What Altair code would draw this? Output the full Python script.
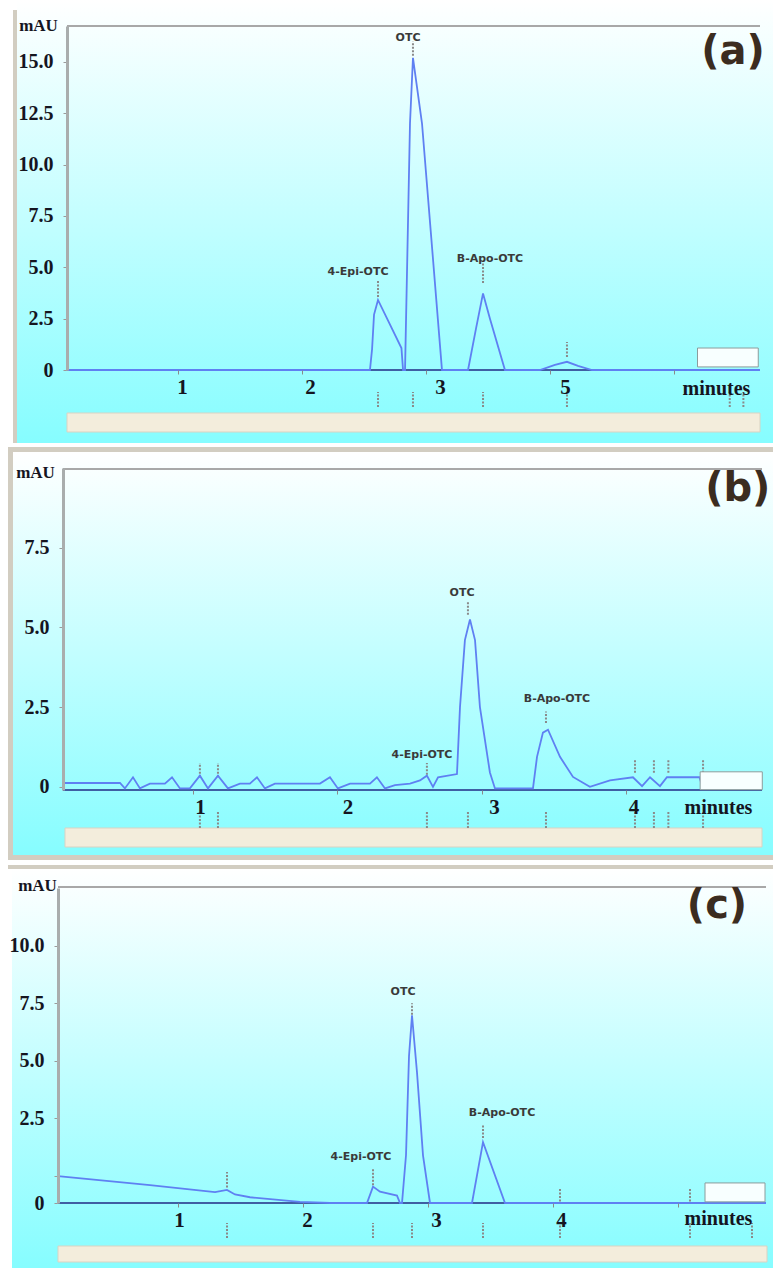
import altair as alt
import pandas as pd

SERIF = "Liberation Serif"
SANS = "DejaVu Sans"
TRACE = "#5f80f2"

# ---------------- Panel (a) data ----------------
a_time = [0.105, 2.548, 2.565, 2.581, 2.613, 2.802, 2.815, 2.831, 2.871, 2.895, 2.968, 3.129,
          3.339, 3.403, 3.460, 3.516, 3.637, 3.919, 4.040, 4.137, 4.226, 4.339, 5.694]
a_mau = [0, 0, 1.0, 2.7, 3.41, 1.07, 0, 0, 12.0, 15.2, 12.0, 0,
         0, 2.0, 3.73, 2.5, 0, 0, 0.25, 0.4, 0.2, 0, 0]
a_peak_names = ["4-Epi-OTC", "OTC", "B-Apo-OTC"]
a_peak_label_time = [2.452, 2.855, 3.516]
a_peak_label_mau = [4.77, 16.17, 5.41]
a_mark_time = [2.613, 2.895, 3.460, 4.137]
a_mark_lo = [3.56, 15.3, 4.24, 0.63]
a_mark_hi = [4.38, 16.0, 5.21, 1.36]
a_below_time = [2.613, 2.895, 3.460, 4.137, 5.45, 5.56]
a_below_lo = -1.8
a_below_hi = -1.07
a_xtick_values = [1, 2, 3, 4, 5]
a_xtick_text = ["1", "2", "3", "5", ""]
a_ytick_values = [0, 2.5, 5, 7.5, 10, 12.5, 15]
a_ytick_text = ["0", "2.5", "5.0", "7.5", "10.0", "12.5", "15.0"]
a_legend_box = [5.19, 5.68, 0.15, 1.07]
a_letter = ["(a)", 5.476, 15.49]

# ---------------- Panel (b) data ----------------
b_time = [0.100, 0.495, 0.529, 0.585, 0.633, 0.702, 0.806, 0.855, 0.910, 0.979, 1.048, 1.104,
          1.173, 1.242, 1.325, 1.394, 1.443, 1.498, 1.567, 1.879, 1.948, 2.003, 2.087, 2.225,
          2.273, 2.329, 2.398, 2.502, 2.571, 2.619, 2.661, 2.696, 2.827, 2.848, 2.882, 2.917,
          2.952, 2.986, 3.055, 3.090, 3.353, 3.381, 3.422, 3.457, 3.540, 3.630, 3.747, 3.886,
          4.045, 4.108, 4.163, 4.232, 4.280, 4.505, 4.526, 4.575, 4.938]
b_mau = [0.12, 0.12, -0.05, 0.3, -0.05, 0.1, 0.1, 0.3, -0.05, -0.05, 0.35, -0.05,
         0.35, -0.05, 0.1, 0.1, 0.3, -0.05, 0.1, 0.1, 0.3, -0.05, 0.1, 0.1,
         0.3, -0.05, 0.05, 0.1, 0.2, 0.35, 0.0, 0.3, 0.4, 2.5, 4.6, 5.25,
         4.6, 2.5, 0.45, -0.05, -0.05, 0.94, 1.7, 1.79, 0.94, 0.31, 0.0, 0.2,
         0.3, 0.02, 0.3, 0.02, 0.3, 0.3, 0.0, 0.25, 0.25]
b_peak_names = ["4-Epi-OTC", "OTC", "B-Apo-OTC"]
b_peak_label_time = [2.585, 2.862, 3.519]
b_peak_label_mau = [1.01, 6.07, 2.74]
b_mark_time = [1.048, 1.173, 2.619, 2.903, 3.443, 4.059, 4.190, 4.290, 4.530]
b_mark_lo = [0.3, 0.3, 0.38, 5.4, 2.0, 0.44, 0.44, 0.44, 0.44]
b_mark_hi = [0.75, 0.75, 0.75, 5.8, 2.36, 0.85, 0.85, 0.85, 0.85]
b_below_time = [1.048, 1.173, 2.619, 2.903, 3.443, 4.059, 4.190, 4.290, 4.530]
b_below_lo = -1.29
b_below_hi = -0.79
b_xtick_values = [1, 2, 3, 4]
b_xtick_text = ["1", "2", "3", "4"]
b_ytick_values = [0, 2.5, 5, 7.5]
b_ytick_text = ["0", "2.5", "5.0", "7.5"]
b_legend_box = [4.51, 4.94, -0.09, 0.47]
b_letter = ["(b)", 4.77, 9.34]

# ---------------- Panel (c) data ----------------
c_time = [0.04, 0.776, 1.296, 1.392, 1.456, 1.576, 1.976, 2.216, 2.512, 2.56, 2.616, 2.752,
          2.776, 2.792, 2.824, 2.848, 2.872, 2.912, 2.96, 3.016, 3.352, 3.44, 3.616, 5.704]
c_mau = [0.0, -0.39, -0.70, -0.60, -0.80, -0.92, -1.12, -1.17, -1.17, -0.46, -0.68, -0.85,
         -1.17, -1.17, 0.9, 5.2, 6.97, 4.5, 0.9, -1.17, -1.17, 1.47, -1.17, -1.17]
c_peak_names = ["4-Epi-OTC", "OTC", "B-Apo-OTC"]
c_peak_label_time = [2.464, 2.80, 3.592]
c_peak_label_mau = [0.82, 7.97, 2.73]
c_mark_time = [1.392, 2.56, 2.872, 3.44, 4.056, 5.096]
c_mark_lo = [-0.5, -0.4, 7.0, 1.65, -1.1, -1.1]
c_mark_hi = [0.17, 0.35, 7.5, 2.2, -0.5, -0.5]
c_below_time = [1.392, 2.56, 2.872, 3.44, 4.056, 5.096, 5.592]
c_below_lo = -2.69
c_below_hi = -2.04
c_xtick_values = [1, 2, 3, 4, 5]
c_xtick_text = ["1", "2", "3", "4", ""]
c_ytick_values = [-1.17, 0, 2.5, 5, 7.5, 10]
c_ytick_text = ["0", "", "2.5", "5.0", "7.5", "10.0"]
c_legend_box = [5.216, 5.696, -1.12, -0.3]
c_letter = ["(c)", 5.312, 11.72]

# ---------------- layout (pixels, relative to each plot area) ----------------
LAYOUT = {
    "a": dict(width=702, height=344, xdom=[0.032, 5.694], ydom=[0, 16.75], yoff=-9,
              white=(-58, 715, -26, 417), frame=(-45, 715, -16, 417), grad=(-41, 715, -26, 417),
              beige=(9, 702, 387, 406), top=(9, 702, 0), xlabel_off=[4, 8, 14, 15, 0],
              title_x=(658, 18), title_y=(-29, -1)),
    "b": dict(width=704, height=322, xdom=[0.066, 4.938], ydom=[-0.1, 10.0], yoff=-5,
              white=(-58, 715, -25, 400), frame=(-50, 715, -21, 392), grad=(-45, 715, -16, 387),
              beige=(7, 704, 360, 379), top=(5, 704, 1), xlabel_off=[7, 10, 12, 7],
              title_x=(660, 17), title_y=(-28, 4)),
    "c": dict(width=708, height=315, xdom=[0.04, 5.704], ydom=[-1.17, 12.5], yoff=0,
              white=(-58, 715, -20, 380), frame=(-50, 715, -23, -19), grad=(-46, 715, -19, 380),
              beige=(0, 709, 358, 374), top=(0, 708, -1), xlabel_off=[1, 4, 8, 8, 0],
              title_x=(660, 15), title_y=(-21, -3)),
}

GRAD = alt.LinearGradient(gradient="linear", x1=0, y1=0, x2=0, y2=1,
                          stops=[alt.GradientStop(offset=0, color="#ffffff"),
                                 alt.GradientStop(offset=1, color="#86fdff")])

ONE = pd.DataFrame({"k": [0]})


def px_rect(box, **mk):
    x0, x1, y0, y1 = box
    return alt.Chart(ONE).mark_rect(**mk).encode(
        x=alt.value(x0), x2=alt.value(x1), y=alt.value(y0), y2=alt.value(y1))


def label_expr(vals, texts):
    expr = "''"
    for v, t in reversed(list(zip(vals, texts))):
        expr = f"abs(datum.value - ({v})) < 0.000001 ? '{t}' : ({expr})"
    return expr


def panel(key, time, mau, names, lt, lv, mt, mlo, mhi, bt, blo, bhi,
          xv, xt, yv, yt, legend_box, letter):
    L = LAYOUT[key]
    xs = alt.Scale(domain=L["xdom"], nice=False, zero=False)
    ys = alt.Scale(domain=L["ydom"], nice=False, zero=False)

    x_label_offset = {"condition": [{"test": f"datum.value === {v}", "value": o}
                                    for v, o in zip(xv, L["xlabel_off"])],
                      "value": 0}

    xaxis = alt.Axis(values=xv, labelExpr=label_expr(xv, xt), title="minutes",
                     titleX=L["title_x"][0], titleY=L["title_x"][1], titleAlign="center",
                     titleBaseline="middle", titleFont=SERIF, titleFontSize=20,
                     titleFontWeight="bold", titleColor="#15151f",
                     labelFont=SERIF, labelFontSize=21, labelFontWeight="bold",
                     labelColor="#15151f", labelPadding=2, labelOffset=x_label_offset,
                     tickSize=4, tickColor="#8a8a8a", tickWidth=1, domain=False, grid=False,
                     labelFlush=False, labelOverlap=False, zindex=1)
    yaxis = alt.Axis(values=yv, labelExpr=label_expr(yv, yt), title="mAU", titleAngle=0,
                     titleX=L["title_y"][0], titleY=L["title_y"][1], titleAlign="center",
                     titleBaseline="middle", titleFont=SERIF, titleFontSize=17,
                     titleFontWeight="bold", titleColor="#15151f",
                     labelFont=SERIF, labelFontSize=20, labelFontWeight="bold",
                     labelColor="#15151f", labelPadding=10, tickSize=4, tickColor="#9a9a9a",
                     domainColor="#a9adad", domainWidth=3, offset=L["yoff"], grid=False,
                     labelFlush=False, labelOverlap=False, zindex=1)

    def X(f):
        return alt.X(f, scale=xs, axis=xaxis)

    def Y(f):
        return alt.Y(f, scale=ys, axis=yaxis)

    white = px_rect(L["white"], fill="#ffffff")
    frame = px_rect(L["frame"], fill="#d2cdc1")
    grad = px_rect(L["grad"], fill=GRAD)
    beige = px_rect(L["beige"], fill="#f3eddc", stroke="#d9d3c3", strokeWidth=1)
    tx0, tx1, ty = L["top"]
    top = alt.Chart(ONE).mark_rule(color="#a8a8a8", strokeWidth=2).encode(
        x=alt.value(tx0), x2=alt.value(tx1), y=alt.value(ty))

    base_df = pd.DataFrame({"t": [time[0]], "t2": [L["xdom"][1]], "v": [L["ydom"][0]]})
    baseline = alt.Chart(base_df).mark_rule(color="#3f5fa3", strokeWidth=2).encode(
        x=X("t:Q"), x2="t2:Q", y=Y("v:Q"))

    lb = pd.DataFrame({"t": [legend_box[0]], "t2": [legend_box[1]],
                       "v": [legend_box[2]], "v2": [legend_box[3]]})
    legend = alt.Chart(lb).mark_rect(fill="#f8ffff", stroke="#8c9c9c", strokeWidth=1).encode(
        x=X("t:Q"), x2="t2:Q", y=Y("v:Q"), y2="v2:Q")

    mdf = pd.DataFrame({"t": mt, "v": mlo, "v2": mhi})
    marks = alt.Chart(mdf).mark_rule(color="#8a8a8a", strokeWidth=2, strokeDash=[2, 1.5]).encode(
        x=X("t:Q"), y=Y("v:Q"), y2="v2:Q")

    bdf = pd.DataFrame({"t": bt, "v": [blo] * len(bt), "v2": [bhi] * len(bt)})
    below = alt.Chart(bdf).mark_rule(color="#8a8a8a", strokeWidth=2, strokeDash=[2, 1.5]).encode(
        x=X("t:Q"), y=Y("v:Q"), y2="v2:Q")

    df = pd.DataFrame({"t": time, "v": mau, "i": list(range(len(time)))})
    trace = alt.Chart(df).mark_line(color=TRACE, strokeWidth=1.8).encode(
        x=X("t:Q"), y=Y("v:Q"), order="i:Q")

    ldf = pd.DataFrame({"name": names, "t": lt, "v": lv})
    labels = alt.Chart(ldf).mark_text(font=SANS, fontSize=11, fontWeight="bold",
                                      color="#3a3a3a").encode(
        x=X("t:Q"), y=Y("v:Q"), text="name:N")

    let_df = pd.DataFrame({"name": [letter[0]], "t": [letter[1]], "v": [letter[2]]})
    letter_mark = alt.Chart(let_df).mark_text(font=SANS, fontSize=40, fontWeight="bold",
                                              color="#3b2c20").encode(
        x=X("t:Q"), y=Y("v:Q"), text="name:N")

    return alt.layer(white, frame, grad, beige, top, baseline, marks, below,
                     trace, legend, labels, letter_mark).properties(width=L["width"], height=L["height"])


pa = panel("a", a_time, a_mau, a_peak_names, a_peak_label_time, a_peak_label_mau,
           a_mark_time, a_mark_lo, a_mark_hi, a_below_time, a_below_lo, a_below_hi,
           a_xtick_values, a_xtick_text, a_ytick_values, a_ytick_text, a_legend_box, a_letter)
pb = panel("b", b_time, b_mau, b_peak_names, b_peak_label_time, b_peak_label_mau,
           b_mark_time, b_mark_lo, b_mark_hi, b_below_time, b_below_lo, b_below_hi,
           b_xtick_values, b_xtick_text, b_ytick_values, b_ytick_text, b_legend_box, b_letter)
pc = panel("c", c_time, c_mau, c_peak_names, c_peak_label_time, c_peak_label_mau,
           c_mark_time, c_mark_lo, c_mark_hi, c_below_time, c_below_lo, c_below_hi,
           c_xtick_values, c_xtick_text, c_ytick_values, c_ytick_text, c_legend_box, c_letter)

chart = alt.vconcat(pa, pb, pc, spacing=98, bounds="flush").properties(
    padding=0, background="white"
).configure_view(strokeOpacity=0)

chart.save("out.html", embed_options={"renderer": "svg", "actions": False})
